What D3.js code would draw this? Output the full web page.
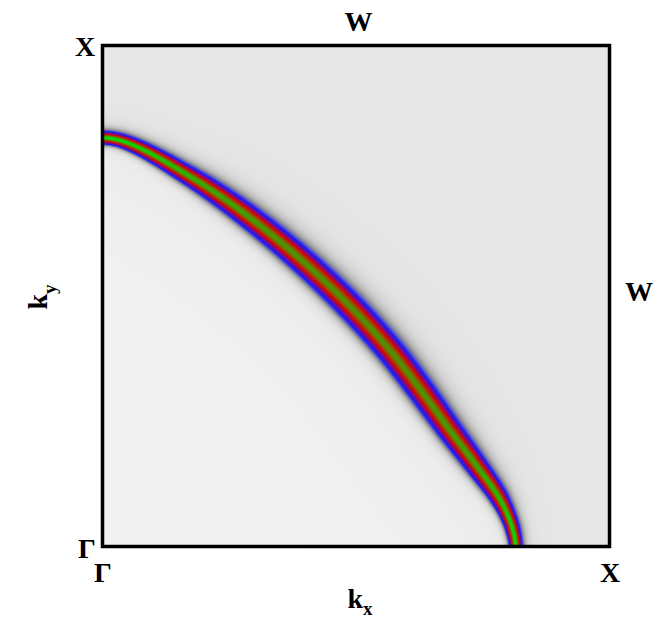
<!DOCTYPE html>
<html><head><meta charset="utf-8">
<script src="https://cdn.jsdelivr.net/npm/d3@7"></script>
<style>html,body{margin:0;padding:0;background:#fff;} svg{display:block}</style>
</head><body>
<svg id="chart" width="661" height="625"></svg>
<script>
// Fermi-surface contour in the first quadrant, k in units of Γ–X
const kx = [0, 0.030, 0.063, 0.103, 0.152, 0.211, 0.290, 0.389, 0.487, 0.566, 0.625, 0.684, 0.736, 0.779, 0.799, 0.809, 0.814];
const ky = [0.815, 0.811, 0.799, 0.779, 0.750, 0.713, 0.656, 0.574, 0.480, 0.392, 0.315, 0.233, 0.163, 0.102, 0.062, 0.032, 0];
// Lorentzian half-width of the spectral peak along the contour
const gamma = [0.0088, 0.009, 0.0098, 0.011, 0.0125, 0.0145, 0.0165, 0.018, 0.019, 0.019, 0.0185, 0.017, 0.015, 0.0125, 0.0105, 0.0095, 0.0088];

// high-symmetry point labels
const bottomLabels = ["Γ", "X"];
const leftLabels = ["Γ", "X"];
const topLabel = "W";
const rightLabel = "W";

const svg = d3.select("#chart");
const x = d3.scaleLinear().domain([0, 1]).range([103, 610]);
const y = d3.scaleLinear().domain([0, 1]).range([547, 45]);

const X0 = 103, Y0 = 45, PW = 507, PH = 502;
const pxPerK = x(1) - x(0);

// contour extended by its mirror images across the zone edges
const n = kx.length;
const pts = [];
const push = (a, b, g) => pts.push([x(a), y(b), g * pxPerK]);
push(-kx[3], ky[3], gamma[3]);
push(-kx[2], ky[2], gamma[2]);
push(-kx[1], ky[1], gamma[1]);
for (let i = 0; i < n; i++) push(kx[i], ky[i], gamma[i]);
push(kx[n - 2], -ky[n - 2], gamma[n - 2]);
push(kx[n - 3], -ky[n - 3], gamma[n - 3]);
push(kx[n - 4], -ky[n - 4], gamma[n - 4]);

// centripetal Catmull-Rom sampling of the contour (position and width)
function lerp(p, q, ta, tb, t) {
  const f = (t - ta) / (tb - ta);
  return [p[0] + (q[0] - p[0]) * f, p[1] + (q[1] - p[1]) * f];
}
const dense = [];
const steps = 20;
for (let i = 0; i < pts.length - 1; i++) {
  const P0 = i > 0 ? pts[i - 1] : [2 * pts[0][0] - pts[1][0], 2 * pts[0][1] - pts[1][1], pts[0][2]];
  const P1 = pts[i], P2 = pts[i + 1];
  const P3 = i + 2 < pts.length ? pts[i + 2] : [2 * P2[0] - P1[0], 2 * P2[1] - P1[1], P2[2]];
  const dt = (a, b) => Math.pow(Math.hypot(b[0] - a[0], b[1] - a[1]), 0.5) || 1e-4;
  const t0 = 0, t1 = t0 + dt(P0, P1), t2 = t1 + dt(P1, P2), t3 = t2 + dt(P2, P3);
  for (let s = 0; s < steps; s++) {
    const t = t1 + (t2 - t1) * s / steps;
    const A1 = lerp(P0, P1, t0, t1, t), A2 = lerp(P1, P2, t1, t2, t), A3 = lerp(P2, P3, t2, t3, t);
    const B1 = lerp(A1, A2, t0, t2, t), B2 = lerp(A2, A3, t1, t3, t);
    const C = lerp(B1, B2, t1, t2, t);
    const f = s / steps, f2 = f * f, f3 = f2 * f;
    const w = 0.5 * (2 * P1[2] + (-P0[2] + P2[2]) * f + (2 * P0[2] - 5 * P1[2] + 4 * P2[2] - P3[2]) * f2 + (-P0[2] + 3 * P1[2] - 3 * P2[2] + P3[2]) * f3);
    dense.push([C[0], C[1], w]);
  }
}
dense.push(pts[pts.length - 1]);

// distance field to the contour
const N = PW * PH;
const dist = new Float32Array(N).fill(1e9);
const wid = new Float32Array(N);
const side = new Int8Array(N);
for (let s = 0; s < dense.length - 1; s++) {
  const a = dense[s], b = dense[s + 1];
  const dx = b[0] - a[0], dy = b[1] - a[1];
  const L2 = dx * dx + dy * dy || 1e-9;
  for (let j = 0; j < PH; j++) {
    const py = Y0 + j + 0.5;
    for (let i = 0; i < PW; i++) {
      const px = X0 + i + 0.5;
      const qx = px - a[0], qy = py - a[1];
      let u = (qx * dx + qy * dy) / L2;
      u = u < 0 ? 0 : (u > 1 ? 1 : u);
      const ex = qx - u * dx, ey = qy - u * dy;
      const d2 = ex * ex + ey * ey;
      const idx = j * PW + i;
      if (d2 < dist[idx]) {
        dist[idx] = d2;
        wid[idx] = a[2] + (b[2] - a[2]) * u;
        side[idx] = (dx * qy - dy * qx) < 0 ? 1 : -1; // 1 = outside (towards W)
      }
    }
  }
}

// colour map: grey -> blue -> red -> green
const stops = [
  [0.20, [150, 150, 150]],
  [0.33, [25, 25, 255]],
  [0.60, [225, 0, 0]],
  [1.00, [0, 225, 0]]
];
function colour(t, bg) {
  if (t < stops[0][0]) {
    const g = bg - (bg - 150) * Math.pow(t / stops[0][0], 1.9);
    return [g, g, g];
  }
  for (let k = 0; k < stops.length - 1; k++) {
    const [t0, c0] = stops[k], [t1, c1] = stops[k + 1];
    if (t <= t1) {
      const f = (t - t0) / (t1 - t0);
      return [0, 1, 2].map(c => c0[c] + (c1[c] - c0[c]) * f);
    }
  }
  return stops[stops.length - 1][1];
}

const wMin = d3.min(gamma) * pxPerK;
const canvas = document.createElement("canvas");
canvas.width = PW; canvas.height = PH;
const ctx = canvas.getContext("2d");
const img = ctx.createImageData(PW, PH);
for (let idx = 0; idx < N; idx++) {
  const d = Math.sqrt(dist[idx]);
  const w = wid[idx];
  const amp = Math.pow(wMin / w, 0.2);
  let t = amp / (1 + (d / w) * (d / w));
  const outside = side[idx] > 0;
  if (!outside && d > 1.4 * w) t *= Math.exp(-(d - 1.4 * w) / (2.2 * w));
  // background level: lighter towards Γ, slightly darker outside the contour
  const bg = outside ? 231 : 241 - 7 * Math.exp(-d / 70);
  const c = colour(t, bg);
  img.data[idx * 4] = c[0];
  img.data[idx * 4 + 1] = c[1];
  img.data[idx * 4 + 2] = c[2];
  img.data[idx * 4 + 3] = 255;
}
ctx.putImageData(img, 0, 0);

svg.append("image")
  .attr("x", X0).attr("y", Y0)
  .attr("width", PW).attr("height", PH)
  .attr("preserveAspectRatio", "none")
  .attr("href", canvas.toDataURL());

// zone frame
svg.append("rect")
  .attr("x", x(0) - 0.5).attr("y", y(1) + 0.5)
  .attr("width", x(1) - x(0)).attr("height", y(0) - y(1) - 1)
  .attr("fill", "none").attr("stroke", "#000").attr("stroke-width", 3.5);

const font = "'Liberation Serif','Times New Roman',serif";
const lab = (tx, ty, s) => svg.append("text")
  .attr("x", tx).attr("y", ty).attr("text-anchor", "middle")
  .attr("font-family", font).attr("font-weight", "bold").attr("font-size", 28)
  .attr("fill", "#000").text(s);

// bottom edge: Γ ... X
lab(x(0), y(0) + 35, bottomLabels[0]);
lab(x(1), y(0) + 35, bottomLabels[1]);
// left edge: Γ ... X
lab(x(0) - 16, y(0) + 11, leftLabels[0]);
lab(x(0) - 18, y(1) + 11, leftLabels[1]);
// zone-boundary midpoints
lab(x(0.5) + 2, y(1) - 14, topLabel);
lab(x(1) + 29, y(0.5) + 5, rightLabel);

// axis titles
const kxT = svg.append("text")
  .attr("x", 360).attr("y", 608).attr("text-anchor", "middle")
  .attr("font-family", font).attr("font-weight", "bold").attr("font-size", 28);
kxT.append("tspan").text("k");
kxT.append("tspan").attr("dy", 7).attr("font-size", 19).text("x");

const kyT = svg.append("text")
  .attr("transform", "translate(47,297) rotate(-90)").attr("text-anchor", "middle")
  .attr("font-family", font).attr("font-weight", "bold").attr("font-size", 28);
kyT.append("tspan").text("k");
kyT.append("tspan").attr("dy", 9).attr("font-size", 19).text("y");
</script>
</body></html>
